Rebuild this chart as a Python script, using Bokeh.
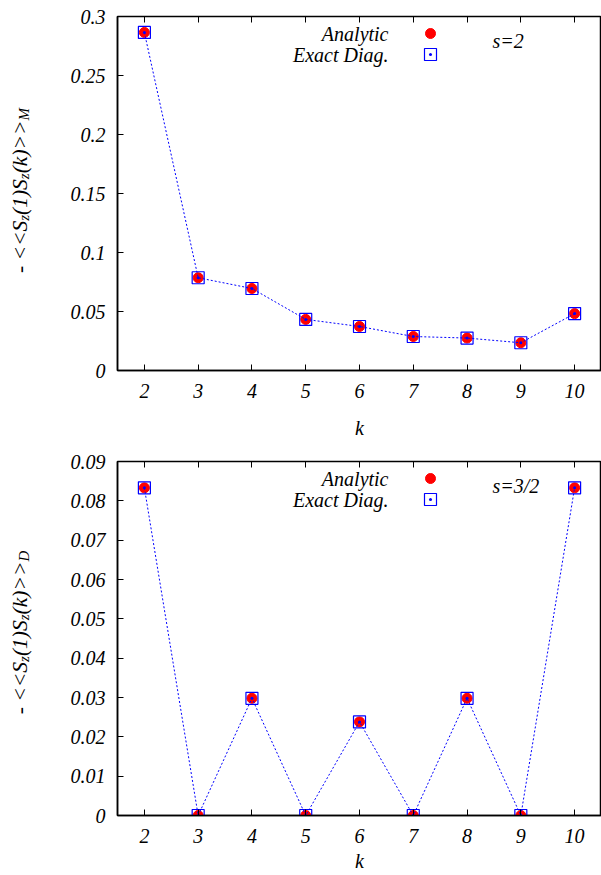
import math
from bokeh.plotting import figure
from bokeh.models import Label, LinearAxis, FixedTicker, Range1d
from bokeh.layouts import column, row
from bokeh.embed import file_html
from bokeh.resources import INLINE

# ---------------- data ----------------
K = [2, 3, 4, 5, 6, 7, 8, 9, 10]
top_analytic = [0.2865, 0.0786, 0.0695, 0.0433, 0.0373, 0.0288, 0.0275, 0.0235, 0.0482]
top_exact = [0.2865, 0.0786, 0.0695, 0.0433, 0.0373, 0.0288, 0.0275, 0.0235, 0.0482]
bot_analytic = [0.0833, 0.0, 0.0298, 0.0, 0.0238, 0.0, 0.0298, 0.0, 0.0833]
bot_exact = [0.0833, 0.0, 0.0298, 0.0, 0.0238, 0.0, 0.0298, 0.0, 0.0833]

x_ticks = [2, 3, 4, 5, 6, 7, 8, 9, 10]
top_yticks = [0, 0.05, 0.1, 0.15, 0.2, 0.25, 0.3]
top_yticklabels = ["0", "0.05", "0.1", "0.15", "0.2", "0.25", "0.3"]
bot_yticks = [0, 0.01, 0.02, 0.03, 0.04, 0.05, 0.06, 0.07, 0.08, 0.09]
bot_yticklabels = ["0", "0.01", "0.02", "0.03", "0.04", "0.05", "0.06", "0.07", "0.08", "0.09"]

legend_labels = ["Analytic", "Exact Diag."]
top_note = "s=2"
bot_note = "s=3/2"
top_ylabel = [("- <<S", False), ("z", True), ("(1)S", False), ("z", True), ("(k)>>", False), ("M", True)]
bot_ylabel = [("- <<S", False), ("z", True), ("(1)S", False), ("z", True), ("(k)>>", False), ("D", True)]
xlabel = "k"

FONT = "Liberation Serif"
FS = 20
YFS = 21.5
SUBFS = 15
# Times italic advance widths (per 1000 em)
W = {'-': 333, ' ': 250, '<': 675, '>': 675, 'S': 500, 'z': 389, '(': 333, ')': 333,
     '1': 500, 'k': 444, 'M': 833, 'D': 722}

LW = 40
FL, FW, FH = 117, 484, 354
XR = (1.5, 10.5)


def make_plot(ymax, yticks, yticklabels, an, ex, note, ylabel_pieces, frame_top,
              top_border, bottom_border, tick_standoff, xlabel_standoff):
    p = figure(frame_width=FW, frame_height=FH, x_range=XR, y_range=(0, ymax),
               output_backend="svg", toolbar_location=None,
               min_border_left=FL - LW, min_border_right=0,
               min_border_top=top_border, min_border_bottom=bottom_border,
               background_fill_color="white", border_fill_color="white")
    p.grid.visible = False
    p.outline_line_color = "black"
    p.outline_line_width = 1.5

    for ax in (p.xaxis[0], p.yaxis[0]):
        ax.major_label_text_font = FONT
        ax.major_label_text_font_style = "italic"
        ax.major_label_text_font_size = f"{FS}px"
        ax.major_label_text_color = "black"
        ax.major_tick_in = 6
        ax.major_tick_out = 0
        ax.minor_tick_line_color = None
        ax.axis_line_width = 1.5
        ax.major_tick_line_width = 1
    p.xaxis[0].major_label_standoff = tick_standoff
    p.yaxis[0].major_label_standoff = 12
    p.xaxis[0].ticker = FixedTicker(ticks=x_ticks)
    p.yaxis[0].ticker = FixedTicker(ticks=yticks)
    p.yaxis[0].major_label_overrides = {t: l for t, l in zip(yticks, yticklabels)}

    p.xaxis[0].axis_label = xlabel
    p.xaxis[0].axis_label_text_font = FONT
    p.xaxis[0].axis_label_text_font_style = "italic"
    p.xaxis[0].axis_label_text_font_size = f"{FS}px"
    p.xaxis[0].axis_label_text_color = "black"
    p.xaxis[0].axis_label_standoff = xlabel_standoff

    top_ax = LinearAxis(ticker=FixedTicker(ticks=x_ticks),
                        major_label_overrides={t: "" for t in x_ticks},
                        major_tick_in=6, major_tick_out=0, minor_tick_line_color=None,
                        major_label_standoff=0, axis_line_color=None)
    p.add_layout(top_ax, "above")

    def xd(px):
        return XR[0] + (px - FL) / FW * (XR[1] - XR[0])

    def yd(py):
        return (frame_top + FH - py) / FH * ymax

    p.scatter(K, an, marker="circle", size=10, fill_color="red", line_color="red")
    p.line(K, ex, line_color="#0000ff", line_width=1, line_dash="2 2")
    p.scatter(K, ex, marker="square_dot", size=12, fill_color=None, line_color="#0000ff", line_width=1.2)

    ya = yd(frame_top + 17)
    ye = yd(frame_top + 38)
    for txt, yy in zip(legend_labels, (ya, ye)):
        p.add_layout(Label(x=xd(388), y=yy, text=txt, text_font=FONT, text_font_style="italic",
                           text_font_size=f"{FS}px", text_align="right", text_baseline="middle",
                           text_color="black"))
    p.scatter([xd(430)], [ya], marker="circle", size=10, fill_color="red", line_color="red")
    p.scatter([xd(430)], [ye], marker="square_dot", size=12, fill_color=None, line_color="#0000ff", line_width=1.2)
    p.add_layout(Label(x=xd(492), y=yd(frame_top + 24), text=note, text_font=FONT, text_font_style="italic",
                       text_font_size=f"{FS}px", text_align="left", text_baseline="middle", text_color="black"))

    # side strip holding the rotated y label with subscripts
    H = top_border + FH + bottom_border
    s = figure(frame_width=LW, frame_height=H, x_range=Range1d(0, LW), y_range=Range1d(H, 0),
               output_backend="svg", toolbar_location=None, min_border=0,
               background_fill_color="white", border_fill_color="white")
    s.axis.visible = False
    s.grid.visible = False
    s.outline_line_color = None

    def pw(txt, fs):
        return sum(W[c] for c in txt) / 1000 * fs
    total = sum(pw(t, SUBFS if sub else YFS) for t, sub in ylabel_pieces)
    cur = top_border + FH / 2 - 19 + total / 2
    for t, sub in ylabel_pieces:
        fs = SUBFS if sub else YFS
        bx = 23 if sub else 19
        s.add_layout(Label(x=bx, y=cur, text=t, angle=math.pi / 2, text_font=FONT,
                           text_font_style="italic", text_font_size=f"{fs}px", text_align="left",
                           text_baseline="alphabetic", text_color="black"))
        cur -= pw(t, fs)
    return row(s, p, spacing=0)


r1 = make_plot(0.3, top_yticks, top_yticklabels, top_analytic, top_exact, top_note, top_ylabel,
               frame_top=16, top_border=16, bottom_border=78, tick_standoff=13, xlabel_standoff=16)
r2 = make_plot(0.09, bot_yticks, bot_yticklabels, bot_analytic, bot_exact, bot_note, bot_ylabel,
               frame_top=461, top_border=13, bottom_border=60, tick_standoff=13, xlabel_standoff=4)

layout = column(r1, r2, spacing=0)
open("out.html", "w").write(file_html(layout, INLINE))
